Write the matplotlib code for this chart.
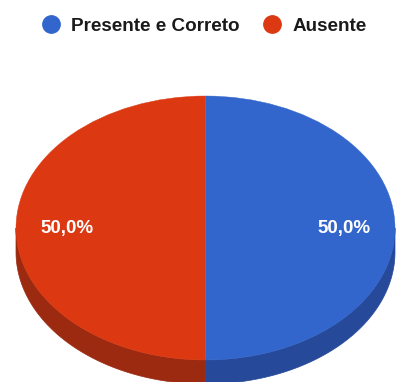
import numpy as np
import matplotlib
matplotlib.use("Agg")
import matplotlib.pyplot as plt
from matplotlib.patches import Wedge, Polygon
from matplotlib.lines import Line2D
from matplotlib.transforms import Affine2D

# Data
labels = ["Presente e Correto", "Ausente"]
values = [50.0, 50.0]
top_colors = ["#3366cc", "#dc3912"]
side_colors = ["#26499a", "#9c2a10"]

W, H = 396, 382
fig = plt.figure(figsize=(W / 100, H / 100), dpi=100)
ax = fig.add_axes([0, 0, 1, 1])
ax.set_xlim(0, W)
ax.set_ylim(0, H)
ax.axis("off")

# Ellipse geometry (pixels, y up)
cx, cy = 205.5, H - 228
rx, ry = 189.5, 132
depth = 24
ell = Affine2D().scale(rx, ry).translate(cx, cy) + ax.transData

total = float(sum(values))
start = 90.0
angles = []
for v in values:
    sweep = 360.0 * v / total
    # clockwise from 12 o'clock
    angles.append((start - sweep, start))
    start -= sweep

# Side walls (front half only: angles between 180 and 360)
for (t1, t2), c in zip(angles, side_colors):
    a1, a2 = t1 % 360, t1 % 360 + (t2 - t1)
    segs = []
    for off in (0, 360, -360):
        lo = max(a1 + off, 180)
        hi = min(a2 + off, 360)
        if hi > lo:
            segs.append((lo, hi))
    for lo, hi in segs:
        th = np.radians(np.linspace(lo, hi, 200))
        xs = cx + rx * np.cos(th)
        ys = cy + ry * np.sin(th)
        pts = np.column_stack([np.r_[xs, xs[::-1]], np.r_[ys, ys[::-1] - depth]])
        ax.add_patch(Polygon(pts, closed=True, facecolor=c, edgecolor=c, lw=0.5))

# Top face
for (t1, t2), c in zip(angles, top_colors):
    ax.add_patch(Wedge((0, 0), 1, t1, t2, facecolor=c, edgecolor=c, lw=0.3,
                       transform=ell))

# Percentage labels
for (t1, t2), v in zip(angles, values):
    mid = np.radians((t1 + t2) / 2)
    lx = cx + 0.73 * rx * np.cos(mid)
    ly = cy + 0.73 * ry * np.sin(mid)
    ax.text(lx, ly, f"{100 * v / total:.1f}%".replace(".", ","),
            ha="center", va="center", color="white", fontsize=13.5,
            fontweight="bold", family="Liberation Sans")

# Legend
handles = [Line2D([], [], marker="o", linestyle="none", markersize=12.5,
                  markerfacecolor=c, markeredgecolor=c) for c in top_colors]
fig.legend(handles, labels, loc="center", ncol=2, frameon=False,
           bbox_to_anchor=(204 / W, 1 - 26 / H),
           prop={"family": "Liberation Sans", "weight": "bold", "size": 13.6},
           handlelength=1.0, handletextpad=0.57, columnspacing=1.22,
           labelcolor="#1a1a1a", borderpad=0, borderaxespad=0)

fig.savefig("out.png", dpi=100, facecolor="white")
